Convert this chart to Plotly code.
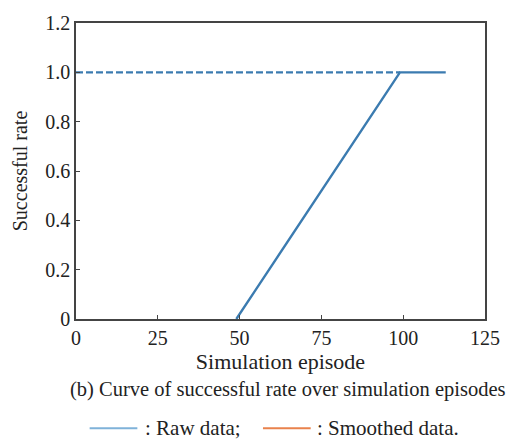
import plotly.graph_objects as go

# Successful rate per simulation episode (breakpoints of the raw curve)
episodes = [49, 99, 113]
success_rate = [0.0, 1.0, 1.0]

# Reference level of full success
ref_episodes = [0, 99]
ref_rate = [1.0, 1.0]

x_ticks = [0, 25, 50, 75, 100, 125]
y_ticks = [0, 0.2, 0.4, 0.6, 0.8, 1.0, 1.2]
y_tick_text = ["0", "0.2", "0.4", "0.6", "0.8", "1.0", "1.2"]

W, H = 512, 441
L, R, T, B = 76, 16, 18, 122
FONT = "Liberation Serif"
BLUE = "#3b7bb0"


def px(x):
    return (x - L) / (W - L - R)


def py(y):
    return (H - B - y) / (H - T - B)


fig = go.Figure()
fig.add_trace(go.Scatter(x=ref_episodes, y=ref_rate, mode="lines",
                         line=dict(color=BLUE, width=2.2, dash="7px,3px"),
                         showlegend=False, hoverinfo="skip"))
fig.add_trace(go.Scatter(x=episodes, y=success_rate, mode="lines",
                         line=dict(color=BLUE, width=2.4),
                         showlegend=False))

axis_common = dict(showgrid=False, zeroline=False, showline=True,
                   linecolor="#444", linewidth=1.5, mirror=True,
                   ticks="inside", ticklen=4, tickcolor="#444",
                   tickfont=dict(family=FONT, size=20, color="#222"))

fig.update_xaxes(range=[0, 125], tickvals=x_ticks,
                 title=dict(text="Simulation episode", standoff=6,
                            font=dict(family=FONT, size=22, color="#222")),
                 **axis_common)
fig.update_yaxes(range=[0, 1.2], tickvals=y_ticks, ticktext=y_tick_text,
                 title=dict(text="Successful rate", standoff=12,
                            font=dict(family=FONT, size=20, color="#222")),
                 **axis_common)

fig.add_annotation(text="(b) Curve of successful rate over simulation episodes",
                   xref="paper", yref="paper", x=px(294), y=py(391),
                   showarrow=False, xanchor="center", yanchor="middle",
                   font=dict(family=FONT, size=20.5, color="#222"))

# Legend row drawn as short line samples with labels
fig.add_shape(type="line", xref="paper", yref="paper",
              x0=px(90), x1=px(139), y0=py(430), y1=py(430),
              line=dict(color="#7fb2d9", width=2))
fig.add_annotation(text=": Raw data;", xref="paper", yref="paper",
                   x=px(145), y=py(430), showarrow=False,
                   xanchor="left", yanchor="middle",
                   font=dict(family=FONT, size=21, color="#222"))
fig.add_shape(type="line", xref="paper", yref="paper",
              x0=px(268), x1=px(317), y0=py(430), y1=py(430),
              line=dict(color="#e9824c", width=2))
fig.add_annotation(text=": Smoothed data.", xref="paper", yref="paper",
                   x=px(321), y=py(430), showarrow=False,
                   xanchor="left", yanchor="middle",
                   font=dict(family=FONT, size=21, color="#222"))

fig.update_layout(width=W, height=H, margin=dict(l=L, r=R, t=T, b=B),
                  plot_bgcolor="white", paper_bgcolor="white",
                  showlegend=False)

fig.write_html("out.html")
